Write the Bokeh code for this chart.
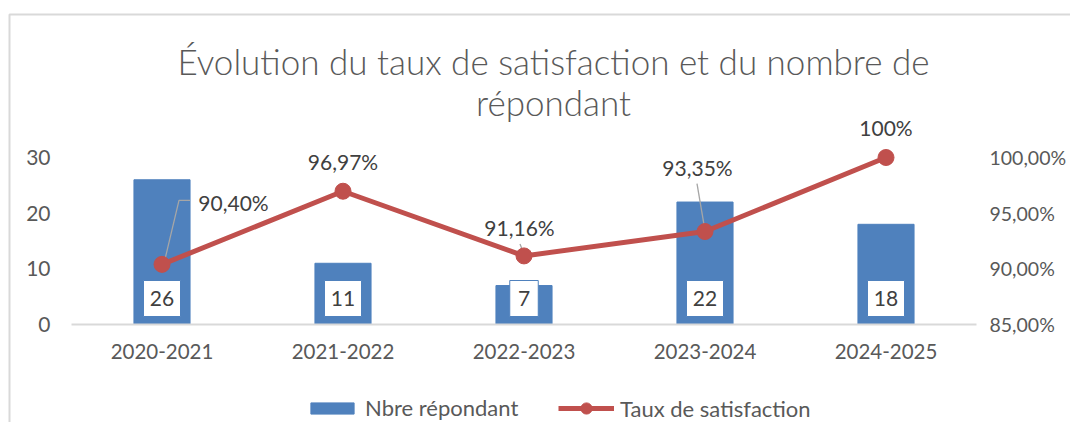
from bokeh.plotting import figure
from bokeh.models import (ColumnDataSource, LinearAxis, Range1d, FixedTicker,
                          Legend, LegendItem, Label)
from bokeh.core.properties import value
from bokeh.embed import file_html
from bokeh.resources import INLINE

# ---- data ----
categories = ["2020-2021", "2021-2022", "2022-2023", "2023-2024", "2024-2025"]
respondents = [26, 11, 7, 22, 18]
satisfaction = [90.40, 96.97, 91.16, 93.35, 100.0]
satisfaction_labels = ["90,40%", "96,97%", "91,16%", "93,35%", "100%"]
left_ticks = [0, 10, 20, 30]
right_ticks = [85, 90, 95, 100]
right_tick_labels = ["85,00%", "90,00%", "95,00%", "100,00%"]
title_lines = ["Évolution du taux de satisfaction et du nombre de", "répondant"]
legend_labels = ["Nbre répondant", "Taux de satisfaction"]

FONT = value("Lato")
TXT = "#595959"
LBL = "#404040"
BLUE = "#4f81bd"
RED = "#c0504d"
GRID = "#d9d9d9"

W, H = 1070, 422
PXX = 181.0              # pixels per category
PX = 167 / 30.0          # pixels per respondent unit
BASE = 324               # baseline, px from top
LEFT = 71                # plot-area left edge, px
x0 = -0.5 - LEFT / PXX
x1 = x0 + W / PXX
y0 = -(H - BASE) / PX
y1 = BASE / PX


def sx(px):
    return x0 + px / PXX


def sy(py):
    return (BASE - py) / PX


idx = list(range(len(categories)))

p = figure(width=W, height=H, x_range=Range1d(x0, x1), y_range=Range1d(y0, y1),
           output_backend="svg", toolbar_location=None,
           min_border_left=0, min_border_right=0, min_border_top=0,
           min_border_bottom=0)
p.extra_y_ranges = {"pct": Range1d(85 + y0 / 2, 85 + y1 / 2)}
p.outline_line_color = None
p.xgrid.visible = False
p.ygrid.visible = False

# chart-area border (decoration)
p.line(x=[sx(9), sx(9), sx(W + 20)], y=[sy(H + 20), sy(14), sy(14)],
       line_color=GRID, line_width=2)

src = ColumnDataSource(dict(
    x=idx, n=respondents, n_txt=[str(v) for v in respondents],
    box_w=[20 + 8.5 * len(str(v)) for v in respondents],
    sat=satisfaction, sat_txt=satisfaction_labels,
    xo=[71.5, 0, -4.5, -7.5, 0], yo=[-62, -30, -28, -64, -30],
))

bars = p.vbar(x="x", top="n", bottom=0, width=0.31, source=src,
              fill_color=BLUE, line_color=BLUE)

# value boxes inside bars
BOX_Y = 26 / PX
p.rect(x="x", y=BOX_Y, width="box_w", height=36, width_units="screen",
       height_units="screen", source=src, fill_color="white", line_color=BLUE,
       line_width=1)
p.text(x="x", y=BOX_Y, text="n_txt", source=src, text_align="center",
       text_baseline="middle", text_font=FONT, text_font_size="21px",
       text_color=LBL)

# leader lines (pixel offsets converted to range units)
px_y = 15 / 167.0
leaders = [(0, [(2, 1), (17, 64), (28, 64)]),
           (2, [(-4, 12), (0, 2)]),
           (3, [(-8, 48), (0, 1)])]
lx, ly = [], []
for i, pts in leaders:
    lx.append([i + dx / PXX for dx, dy in pts])
    ly.append([satisfaction[i] + dy * px_y for dx, dy in pts])
p.multi_line(xs=lx, ys=ly, y_range_name="pct", line_color="#a6a6a6", line_width=1.3)

line = p.line(x="x", y="sat", source=src, y_range_name="pct", line_color=RED,
              line_width=5)
marks = p.scatter(x="x", y="sat", source=src, y_range_name="pct", size=16,
                  fill_color=RED, line_color=RED)
p.text(x="x", y="sat", text="sat_txt", source=src, y_range_name="pct",
       x_offset="xo", y_offset="yo", text_align="center", text_baseline="middle",
       text_font=FONT, text_font_size="21px", text_color=LBL)


def style_axis(ax, size="21px", standoff=20):
    ax.major_tick_line_color = None
    ax.minor_tick_line_color = None
    ax.major_tick_out = 0
    ax.minor_tick_out = 0
    ax.major_label_text_font = "Lato"
    ax.major_label_text_font_size = size
    ax.major_label_text_color = TXT
    ax.major_label_standoff = standoff


# category axis
xa = p.xaxis[0]
xa.ticker = FixedTicker(ticks=idx)
xa.major_label_overrides = {i: c for i, c in zip(idx, categories)}
xa.fixed_location = 0
xa.bounds = (-0.5, len(categories) - 0.5)
xa.axis_line_color = GRID
xa.axis_line_width = 2
style_axis(xa, "20.5px", 19)

ya = p.yaxis[0]
ya.ticker = FixedTicker(ticks=left_ticks)
ya.fixed_location = -0.5
ya.axis_line_color = None
style_axis(ya, "21px", 21)

ra = LinearAxis(y_range_name="pct", ticker=FixedTicker(ticks=right_ticks),
                major_label_overrides={t: l for t, l in zip(right_ticks, right_tick_labels)})
ra.fixed_location = len(categories) - 0.5
ra.axis_line_color = None
style_axis(ra, "19.5px", 13)
p.add_layout(ra, "right")

# title (two lines)
for t, ty in zip(title_lines, [60, 101]):
    p.add_layout(Label(x=sx(553), y=sy(ty), text=t, text_align="center",
                       text_baseline="alphabetic", text_font="Lato Light, Lato",
                       text_font_size="35px", text_color=TXT))

common = dict(orientation="horizontal", label_standoff=6,
              padding=0, margin=0, border_line_alpha=0, background_fill_alpha=0,
              label_text_font="Lato", label_text_font_size="22px",
              label_text_color=TXT, label_height=20)
legend_a = Legend(items=[LegendItem(label=legend_labels[0], renderers=[bars])],
                  location=(305, 1), glyph_width=54, glyph_height=14, **common)
legend_b = Legend(items=[LegendItem(label=legend_labels[1], renderers=[line, marks])],
                  location=(558, 0), glyph_width=56, glyph_height=28, **common)
p.add_layout(legend_a, "center")
p.add_layout(legend_b, "center")

open("out.html", "w").write(file_html(p, INLINE))
